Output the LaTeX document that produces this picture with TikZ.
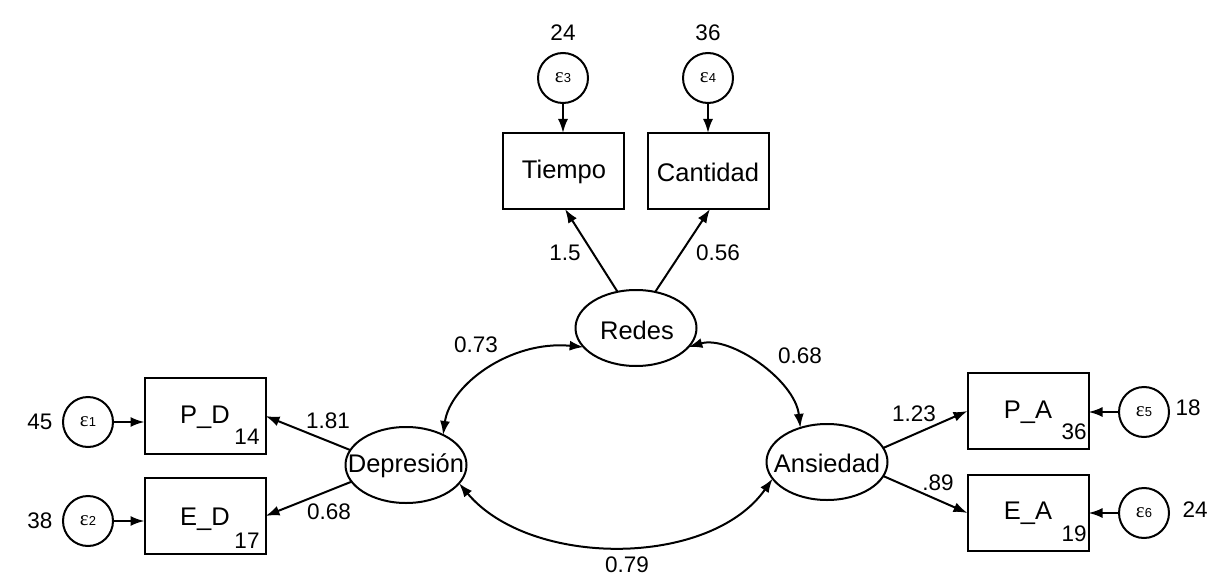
\documentclass[tikz,border=0pt]{standalone}
\usepackage{fontspec}
\setmainfont{Liberation Sans}
\newfontfamily\epsfont{Liberation Serif}
\usetikzlibrary{arrows.meta,shapes.geometric,calc}
\begin{document}
\begin{tikzpicture}[x=1pt,y=-1pt,
  every node/.style={inner sep=0pt,outer sep=0pt},
  obsbox/.style={draw,line width=2pt,rectangle,minimum width=121pt,minimum height=76pt},
  latent/.style={draw,line width=2pt,ellipse,minimum width=121pt,minimum height=76pt},
  errc/.style={draw,line width=2pt,circle,minimum size=50pt},
  num/.style={font=\fontsize{22.5}{24}\selectfont},
  nm/.style={font=\fontsize{25.5}{28}\selectfont},
  arr/.style={line width=2pt,-{Latex[length=14pt,width=10pt]}},
  darr/.style={line width=2pt,{Latex[length=14pt,width=10pt]}-{Latex[length=14pt,width=10pt]}}
]
\useasboundingbox (0,0) rectangle (1215,583);
\newcommand{\epslab}[1]{{\epsfont\fontsize{21}{21}\selectfont\char"03B5}{\fontsize{13}{13}\selectfont #1}}

% observed boxes
\node[obsbox] (tiempo) at (563,171) {};
\node[nm] (tiempoT) at (564,172) {Tiempo};
\node[obsbox] (cantidad) at (708,171) {};
\node[nm] (cantidadT) at (708,172) {Cantidad};
\node[obsbox] (pd) at (205,416) {};
\node[nm] (pdT) at (205,417) {P\_D};
\node[num] (pdS) at (247,437) {14};
\node[obsbox] (ed) at (205,516) {};
\node[nm] (edT) at (205,519) {E\_D};
\node[num] (edS) at (247,541) {17};
\node[obsbox] (pa) at (1028,411) {};
\node[nm] (paT) at (1028,412) {P\_A};
\node[num] (paS) at (1074,432) {36};
\node[obsbox] (ea) at (1028,513) {};
\node[nm] (eaT) at (1028,513) {E\_A};
\node[num] (eaS) at (1074,534) {19};

% latent
\node[latent] (redes) at (636,328) {};
\node[nm] (redesT) at (637,330) {Redes};
\node[latent] (dep) at (406,465) {};
\node[nm] (depT) at (406,466) {Depresi\'on};
\node[latent] (ans) at (827,462) {};
\node[nm] (ansT) at (827,463) {Ansiedad};

% errors
\node[errc] (e3) at (563,78) {\epslab{3}};
\node[errc] (e4) at (708,78) {\epslab{4}};
\node[errc] (e1) at (88,422) {\epslab{1}};
\node[errc] (e2) at (88,521) {\epslab{2}};
\node[errc] (e5) at (1144,412) {\epslab{5}};
\node[errc] (e6) at (1144,513) {\epslab{6}};

% variances
\node[num] (v3) at (563,33) {24};
\node[num] (v4) at (708,33) {36};
\node[num] (v1) at (40,422) {45};
\node[num] (v2) at (40,521) {38};
\node[num] (v5) at (1188,408) {18};
\node[num] (v6) at (1195,510) {24};

% error arrows
\draw[arr] (e3.south) -- (e3.south |- tiempo.north);
\draw[arr] (e4.south) -- (e4.south |- cantidad.north);
\draw[arr] (e1.east) -- (e1.east -| pd.west);
\draw[arr] (e2.east) -- (e2.east -| ed.west);
\draw[arr] (e5.west) -- (e5.west -| pa.east);
\draw[arr] (e6.west) -- (e6.west -| ea.east);

% loadings
\draw[arr] (redes.117) -- ($(tiempo.south)+(2,0)$);
\draw[arr] (redes.62) -- ($(cantidad.south)+(2,0)$);
\draw[arr] (dep.165) -- (pd.east);
\draw[arr] (dep.197) -- (ed.east);
\draw[arr] (ans.14) -- (pa.west);
\draw[arr] (ans.-14) -- (ea.west);

\node[num] (l15) at (565,253) {1.5};
\node[num] (l056) at (718,253) {0.56};
\node[num] (l181) at (328,421) {1.81};
\node[num] (l068b) at (329,512) {0.68};
\node[num] (l123) at (914,414) {1.23};
\node[num] (l89) at (938,483) {.89};

% covariances
\draw[darr] (dep.39) .. controls (450,385) and (510,340) .. (redes.200);
\draw[darr] (redes.340) .. controls (730,335) and (795,380) .. (ans.128);
\draw[darr] (dep.341) .. controls (530,568) and (710,568) .. (ans.197);

\node[num] (c073) at (476,345) {0.73};
\node[num] (c068) at (800,356) {0.68};
\node[num] (c079) at (627,565) {0.79};
\end{tikzpicture}
\end{document}
